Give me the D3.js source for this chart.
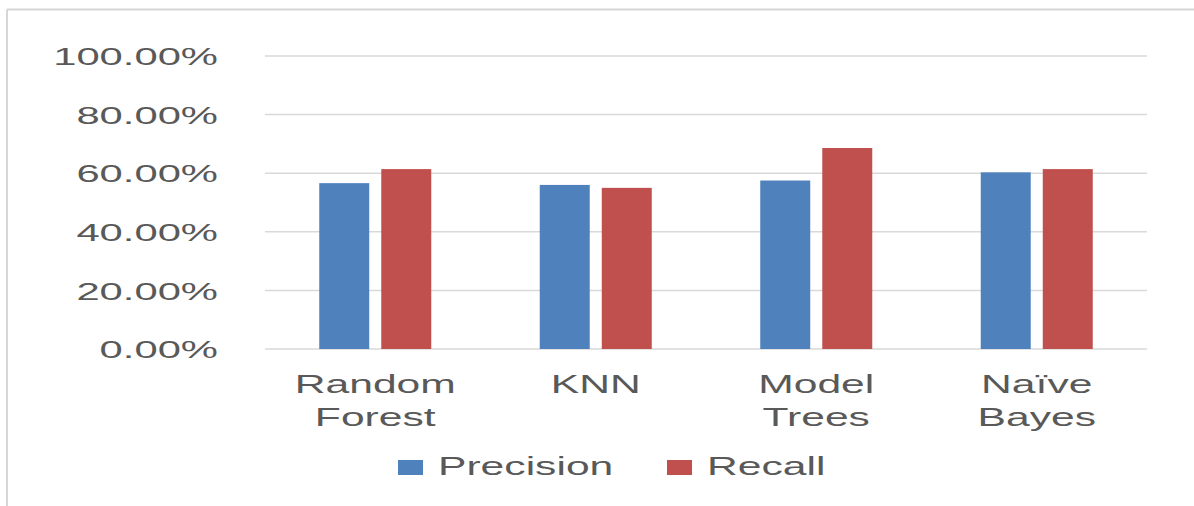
<!DOCTYPE html>
<html>
<head>
<meta charset="utf-8">
<script src="https://cdn.jsdelivr.net/npm/d3@7"></script>
<style>
  html, body { margin: 0; padding: 0; background: #ffffff; }
  svg { display: block; }
  text { font-family: "Liberation Sans", Arial, sans-serif; fill: #595959; }
</style>
</head>
<body>
<svg id="chart" width="1194" height="506"></svg>
<script>
// Classifier comparison data
const categories = [["Random", "Forest"], ["KNN"], ["Model", "Trees"], ["Naïve", "Bayes"]];
const seriesNames = ["Precision", "Recall"];
const precision = [0.566, 0.560, 0.575, 0.603];
const recall = [0.614, 0.550, 0.686, 0.614];
const yTicks = [0, 0.2, 0.4, 0.6, 0.8, 1.0];
const colors = ["#4f81bd", "#c0504d"];

const W = 1194, H = 506;
const plot = { left: 265, right: 1147, top: 56, bottom: 349 };
const textStretch = 1.64;
const tickStretch = 1.74;

const svg = d3.select("#chart");

// outer chart frame (top and left edges visible)
svg.append("line").attr("x1", 7).attr("x2", W).attr("y1", 9.5).attr("y2", 9.5)
  .attr("stroke", "#d6d6d6").attr("stroke-width", 2);
svg.append("line").attr("x1", 7).attr("x2", 7).attr("y1", 9.5).attr("y2", H)
  .attr("stroke", "#d6d6d6").attr("stroke-width", 2);

const keys = categories.map(c => c.join(" "));
const x0 = d3.scaleBand().domain(keys).range([plot.left, plot.right])
  .paddingInner(0.492).paddingOuter(0.246);
const x1 = d3.scaleBand().domain(seriesNames).range([0, x0.bandwidth()])
  .paddingInner(0.194).paddingOuter(0);
const y = d3.scaleLinear().domain([0, 1]).range([plot.bottom, plot.top]);

// horizontal gridlines
svg.append("g").selectAll("line").data(yTicks).join("line")
  .attr("x1", plot.left).attr("x2", plot.right)
  .attr("y1", d => y(d)).attr("y2", d => y(d))
  .attr("stroke", "#d9d9d9").attr("stroke-width", 1.5);

// y axis labels
const yAxis = svg.append("g").attr("transform", "translate(218,0)")
  .call(d3.axisLeft(y).tickValues(yTicks).tickFormat(d3.format(".2%")).tickSize(0).tickPadding(0));
yAxis.select(".domain").remove();
yAxis.selectAll("text")
  .attr("x", 0).attr("dy", "0.36em")
  .style("font-family", "'Liberation Sans', Arial, sans-serif")
  .style("font-size", "24px").attr("fill", "#595959")
  .attr("transform", `scale(${tickStretch},1)`);

// bars
const rows = keys.map((k, i) => ({ key: k, values: [precision[i], recall[i]] }));
const groups = svg.append("g").selectAll("g").data(rows).join("g")
  .attr("transform", d => `translate(${x0(d.key)},0)`);
groups.selectAll("rect")
  .data(d => d.values.map((v, j) => ({ name: seriesNames[j], value: v, j })))
  .join("rect")
  .attr("x", d => x1(d.name))
  .attr("width", x1.bandwidth())
  .attr("y", d => y(d.value))
  .attr("height", d => y(0) - y(d.value))
  .attr("fill", d => colors[d.j]);

// category labels
const catG = svg.append("g").selectAll("g").data(categories).join("g")
  .attr("transform", (d, i) => `translate(${x0(keys[i]) + x0.bandwidth() / 2},0)`);
catG.selectAll("text").data(d => d).join("text")
  .attr("text-anchor", "middle")
  .attr("font-size", 26)
  .attr("transform", (d, i) => `translate(0,${393 + i * 33}) scale(${textStretch},1)`)
  .text(d => d);

// legend
const legendX = [398, 667];
const leg = svg.append("g").selectAll("g").data(seriesNames).join("g")
  .attr("transform", (d, i) => `translate(${legendX[i]},0)`);
leg.append("rect").attr("x", 0).attr("y", 460).attr("width", 25).attr("height", 15)
  .attr("fill", (d, i) => colors[i]);
leg.append("text")
  .attr("font-size", 26)
  .attr("transform", `translate(40,475) scale(${textStretch},1)`)
  .text(d => d);
</script>
</body>
</html>
